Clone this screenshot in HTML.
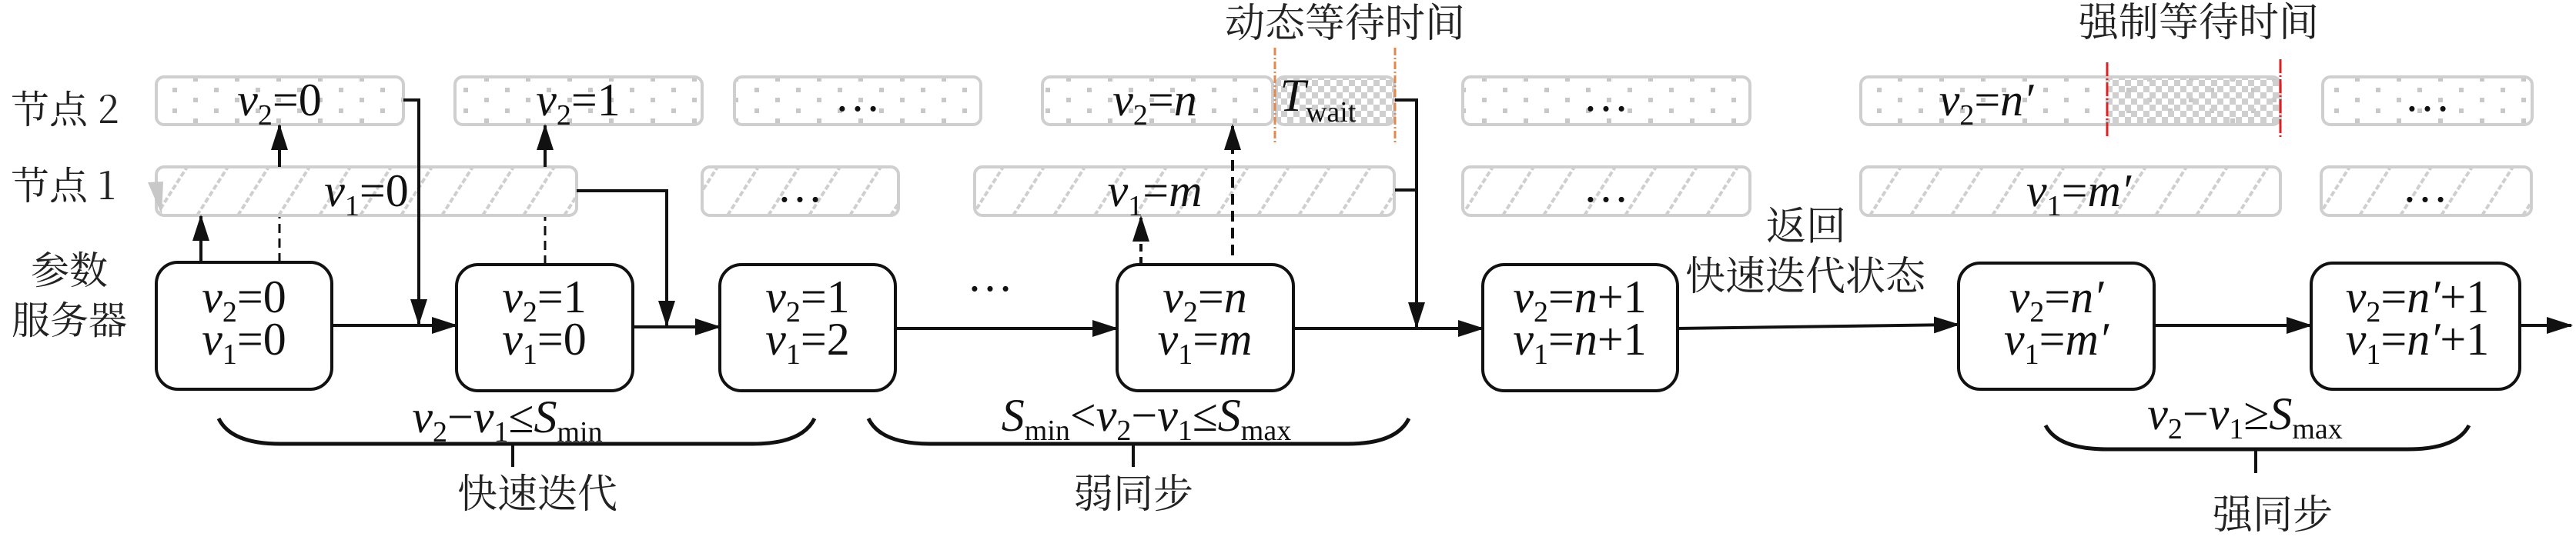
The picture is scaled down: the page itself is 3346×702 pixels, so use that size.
<!DOCTYPE html>
<html><head><meta charset="utf-8">
<style>
html,body{margin:0;padding:0;background:#fff;}
svg{display:block;}
.mt{font-family:"Liberation Serif","DejaVu Serif",serif;}
.cj{font-family:"Noto Serif CJK SC","Noto Sans CJK SC",serif;}
</style></head>
<body>
<svg width="3346" height="702" viewBox="0 0 3346 702" xmlns="http://www.w3.org/2000/svg">
<defs>
<pattern id="dots" width="54" height="27" patternUnits="userSpaceOnUse">
<rect x="8" y="6" width="6" height="6" fill="#c8c8c8"/>
<rect x="35" y="19" width="6" height="6" fill="#c8c8c8"/>
</pattern>
<pattern id="hatch" width="53" height="63" patternUnits="userSpaceOnUse" patternTransform="translate(203,217)">
<line x1="0" y1="63" x2="40" y2="0" stroke="#cfcfcf" stroke-width="4" stroke-dasharray="7 3"/>
<line x1="53" y1="63" x2="93" y2="0" stroke="#cfcfcf" stroke-width="4" stroke-dasharray="7 3"/>
</pattern>
<pattern id="chk" width="16" height="16" patternUnits="userSpaceOnUse">
<rect x="0" y="0" width="8" height="8" fill="#cfcfcf"/>
<rect x="8" y="8" width="8" height="8" fill="#cfcfcf"/>
</pattern>
<marker id="ah" markerWidth="34" markerHeight="22" refX="32" refY="11" orient="auto" markerUnits="userSpaceOnUse" viewBox="0 0 34 22">
<path d="M0,0 L34,11 L0,22 z" fill="#111"/>
</marker>
</defs>

<g class="cj" font-size="50" fill="#222">
<text x="14" y="160">节点 2</text>
<text x="14" y="259">节点 1</text>
<text x="90" y="369" text-anchor="middle">参数</text>
<text x="90" y="434" text-anchor="middle">服务器</text>
</g>

<g stroke="#cfcfcf" stroke-width="4">
<rect x="203" y="100" width="321" height="62" rx="10" fill="url(#dots)"/>
<rect x="591" y="100" width="321" height="62" rx="10" fill="url(#dots)"/>
<rect x="954" y="100" width="320" height="62" rx="10" fill="url(#dots)"/>
<rect x="1354" y="100" width="299" height="62" rx="10" fill="url(#dots)"/>
<rect x="1658" y="100" width="153" height="62" rx="10" fill="url(#chk)"/>
<rect x="1900" y="100" width="373" height="62" rx="10" fill="url(#dots)"/>
<rect x="2417" y="100" width="545" height="62" rx="10" fill="url(#dots)"/>
<rect x="2737" y="102" width="223" height="58" fill="url(#chk)" stroke="none"/>
<rect x="3017" y="100" width="272" height="62" rx="10" fill="url(#dots)"/>
<rect x="203" y="217" width="546" height="63" rx="10" fill="url(#hatch)"/>
<rect x="912" y="217" width="255" height="63" rx="10" fill="url(#hatch)"/>
<rect x="1266" y="217" width="545" height="63" rx="10" fill="url(#hatch)"/>
<rect x="1900" y="217" width="373" height="63" rx="10" fill="url(#hatch)"/>
<rect x="2417" y="217" width="545" height="63" rx="10" fill="url(#hatch)"/>
<rect x="3015" y="217" width="273" height="63" rx="10" fill="url(#hatch)"/>
</g>
<path d="M192,237 L212,236 L210,279 z" fill="#c8c8c8"/>

<line x1="1656" y1="62" x2="1656" y2="188" stroke="#e08a4e" stroke-width="3" stroke-dasharray="10 3 2 3"/>
<line x1="1812" y1="62" x2="1812" y2="188" stroke="#e08a4e" stroke-width="3" stroke-dasharray="10 3 2 3"/>
<line x1="2737" y1="81" x2="2737" y2="180" stroke="#e02020" stroke-width="3" stroke-dasharray="18 3 2 3"/>
<line x1="2962" y1="77" x2="2962" y2="178" stroke="#e02020" stroke-width="3" stroke-dasharray="18 3 2 3"/>

<g class="mt" font-size="60" fill="#111" text-anchor="middle">
<text x="363" y="150"><tspan font-style="italic">v</tspan><tspan font-size="38" dy="12">2</tspan><tspan dy="-12">=0</tspan></text>
<text x="751" y="150"><tspan font-style="italic">v</tspan><tspan font-size="38" dy="12">2</tspan><tspan dy="-12">=1</tspan></text>
<text x="1114" y="144">…</text>
<text x="1500" y="150"><tspan font-style="italic">v</tspan><tspan font-size="38" dy="12">2</tspan><tspan dy="-12">=</tspan><tspan font-style="italic">n</tspan></text>
<text x="1712" y="144"><tspan font-style="italic">T</tspan><tspan font-size="38" dy="14">wait</tspan></text>
<text x="2086" y="144">…</text>
<text x="2580" y="150"><tspan font-style="italic">v</tspan><tspan font-size="38" dy="12">2</tspan><tspan dy="-12">=</tspan><tspan font-style="italic">n′</tspan></text>
<text x="3153" y="144">…</text>
<text x="476" y="268"><tspan font-style="italic">v</tspan><tspan font-size="38" dy="12">1</tspan><tspan dy="-12">=0</tspan></text>
<text x="1039" y="262">…</text>
<text x="1500" y="268"><tspan font-style="italic">v</tspan><tspan font-size="38" dy="12">1</tspan><tspan dy="-12">=</tspan><tspan font-style="italic">m</tspan></text>
<text x="2086" y="262">…</text>
<text x="2700" y="268"><tspan font-style="italic">v</tspan><tspan font-size="38" dy="12">1</tspan><tspan dy="-12">=</tspan><tspan font-style="italic">m′</tspan></text>
<text x="3150" y="262">…</text>
</g>

<g fill="#fff" stroke="#111" stroke-width="4">
<rect x="203" y="341" width="228" height="165" rx="28"/>
<rect x="593" y="344" width="229" height="164" rx="28"/>
<rect x="935" y="344" width="228" height="164" rx="28"/>
<rect x="1451" y="344" width="229" height="164" rx="28"/>
<rect x="1926" y="344" width="253" height="164" rx="28"/>
<rect x="2544" y="342" width="254" height="164" rx="28"/>
<rect x="3002" y="342" width="271" height="164" rx="28"/>
</g>
<g class="mt" font-size="60" fill="#111" text-anchor="middle">
<text x="317" y="406"><tspan font-style="italic">v</tspan><tspan font-size="38" dy="12">2</tspan><tspan dy="-12">=0</tspan></text>
<text x="317" y="461"><tspan font-style="italic">v</tspan><tspan font-size="38" dy="12">1</tspan><tspan dy="-12">=0</tspan></text>
<text x="707" y="406"><tspan font-style="italic">v</tspan><tspan font-size="38" dy="12">2</tspan><tspan dy="-12">=1</tspan></text>
<text x="707" y="461"><tspan font-style="italic">v</tspan><tspan font-size="38" dy="12">1</tspan><tspan dy="-12">=0</tspan></text>
<text x="1049" y="406"><tspan font-style="italic">v</tspan><tspan font-size="38" dy="12">2</tspan><tspan dy="-12">=1</tspan></text>
<text x="1049" y="461"><tspan font-style="italic">v</tspan><tspan font-size="38" dy="12">1</tspan><tspan dy="-12">=2</tspan></text>
<text x="1565" y="406"><tspan font-style="italic">v</tspan><tspan font-size="38" dy="12">2</tspan><tspan dy="-12">=</tspan><tspan font-style="italic">n</tspan></text>
<text x="1565" y="461"><tspan font-style="italic">v</tspan><tspan font-size="38" dy="12">1</tspan><tspan dy="-12">=</tspan><tspan font-style="italic">m</tspan></text>
<text x="2052" y="406"><tspan font-style="italic">v</tspan><tspan font-size="38" dy="12">2</tspan><tspan dy="-12">=</tspan><tspan font-style="italic">n</tspan>+1</text>
<text x="2052" y="461"><tspan font-style="italic">v</tspan><tspan font-size="38" dy="12">1</tspan><tspan dy="-12">=</tspan><tspan font-style="italic">n</tspan>+1</text>
<text x="2671" y="406"><tspan font-style="italic">v</tspan><tspan font-size="38" dy="12">2</tspan><tspan dy="-12">=</tspan><tspan font-style="italic">n′</tspan></text>
<text x="2671" y="461"><tspan font-style="italic">v</tspan><tspan font-size="38" dy="12">1</tspan><tspan dy="-12">=</tspan><tspan font-style="italic">m′</tspan></text>
<text x="3140" y="406"><tspan font-style="italic">v</tspan><tspan font-size="38" dy="12">2</tspan><tspan dy="-12">=</tspan><tspan font-style="italic">n′</tspan>+1</text>
<text x="3140" y="461"><tspan font-style="italic">v</tspan><tspan font-size="38" dy="12">1</tspan><tspan dy="-12">=</tspan><tspan font-style="italic">n′</tspan>+1</text>
<text x="1286" y="378">…</text>
</g>

<g stroke="#111" stroke-width="4" fill="none">
<line x1="431" y1="423" x2="593" y2="423" marker-end="url(#ah)"/>
<line x1="822" y1="425" x2="935" y2="425" marker-end="url(#ah)"/>
<line x1="1163" y1="427" x2="1451" y2="427" marker-end="url(#ah)"/>
<line x1="1680" y1="427" x2="1926" y2="427" marker-end="url(#ah)"/>
<line x1="2179" y1="427" x2="2544" y2="422" marker-end="url(#ah)"/>
<line x1="2798" y1="423" x2="3002" y2="423" marker-end="url(#ah)"/>
<line x1="3273" y1="423" x2="3340" y2="423" marker-end="url(#ah)"/>

<line x1="261" y1="341" x2="261" y2="281" marker-end="url(#ah)"/>
<line x1="363" y1="341" x2="363" y2="282" stroke-dasharray="12 7" stroke-width="3"/>
<line x1="363" y1="217" x2="363" y2="163" marker-end="url(#ah)"/>
<polyline points="524,130 544,130 544,421" marker-end="url(#ah)"/>
<polyline points="749,248 866,248 866,423" marker-end="url(#ah)"/>
<line x1="708" y1="344" x2="708" y2="282" stroke-dasharray="12 7" stroke-width="3"/>
<line x1="708" y1="217" x2="708" y2="163" marker-end="url(#ah)"/>

<line x1="1482" y1="344" x2="1482" y2="282" stroke-dasharray="10 7" marker-end="url(#ah)"/>
<line x1="1601" y1="332" x2="1601" y2="163" stroke-dasharray="14 8" marker-end="url(#ah)"/>
<polyline points="1812,130 1840,130 1840,425" marker-end="url(#ah)"/>
<line x1="1812" y1="247" x2="1840" y2="247"/>

<path d="M284,544 Q300,577 364,577 L978,577 Q1042,577 1058,544" stroke-width="5"/>
<line x1="666" y1="577" x2="666" y2="607"/>
<path d="M1128,544 Q1144,577 1208,577 L1750,577 Q1814,577 1830,544" stroke-width="5"/>
<line x1="1472" y1="577" x2="1472" y2="607"/>
<path d="M2657,553 Q2673,584 2737,584 L3127,584 Q3191,584 3207,553" stroke-width="5"/>
<line x1="2930" y1="584" x2="2930" y2="615"/>
</g>

<g class="mt" font-size="60" fill="#111" text-anchor="middle">
<text x="659" y="562"><tspan font-style="italic">v</tspan><tspan font-size="38" dy="12">2</tspan><tspan dy="-12">−</tspan><tspan font-style="italic">v</tspan><tspan font-size="38" dy="12">1</tspan><tspan dy="-12">≤</tspan><tspan font-style="italic">S</tspan><tspan font-size="38" dy="12">min</tspan></text>
<text x="1489" y="560"><tspan font-style="italic">S</tspan><tspan font-size="38" dy="12">min</tspan><tspan dy="-12">&lt;</tspan><tspan font-style="italic">v</tspan><tspan font-size="38" dy="12">2</tspan><tspan dy="-12">−</tspan><tspan font-style="italic">v</tspan><tspan font-size="38" dy="12">1</tspan><tspan dy="-12">≤</tspan><tspan font-style="italic">S</tspan><tspan font-size="38" dy="12">max</tspan></text>
<text x="2916" y="558"><tspan font-style="italic">v</tspan><tspan font-size="38" dy="12">2</tspan><tspan dy="-12">−</tspan><tspan font-style="italic">v</tspan><tspan font-size="38" dy="12">1</tspan><tspan dy="-12">≥</tspan><tspan font-style="italic">S</tspan><tspan font-size="38" dy="12">max</tspan></text>
</g>
<g class="cj" font-size="52" fill="#222" text-anchor="middle">
<text x="698" y="660">快速迭代</text>
<text x="1472" y="660">弱同步</text>
<text x="2952" y="687">强同步</text>
<text x="1747" y="48">动态等待时间</text>
<text x="2856" y="47">强制等待时间</text>
<text x="2346" y="312">返回</text>
<text x="2345" y="377">快速迭代状态</text>
</g>
</svg>
</body></html>
